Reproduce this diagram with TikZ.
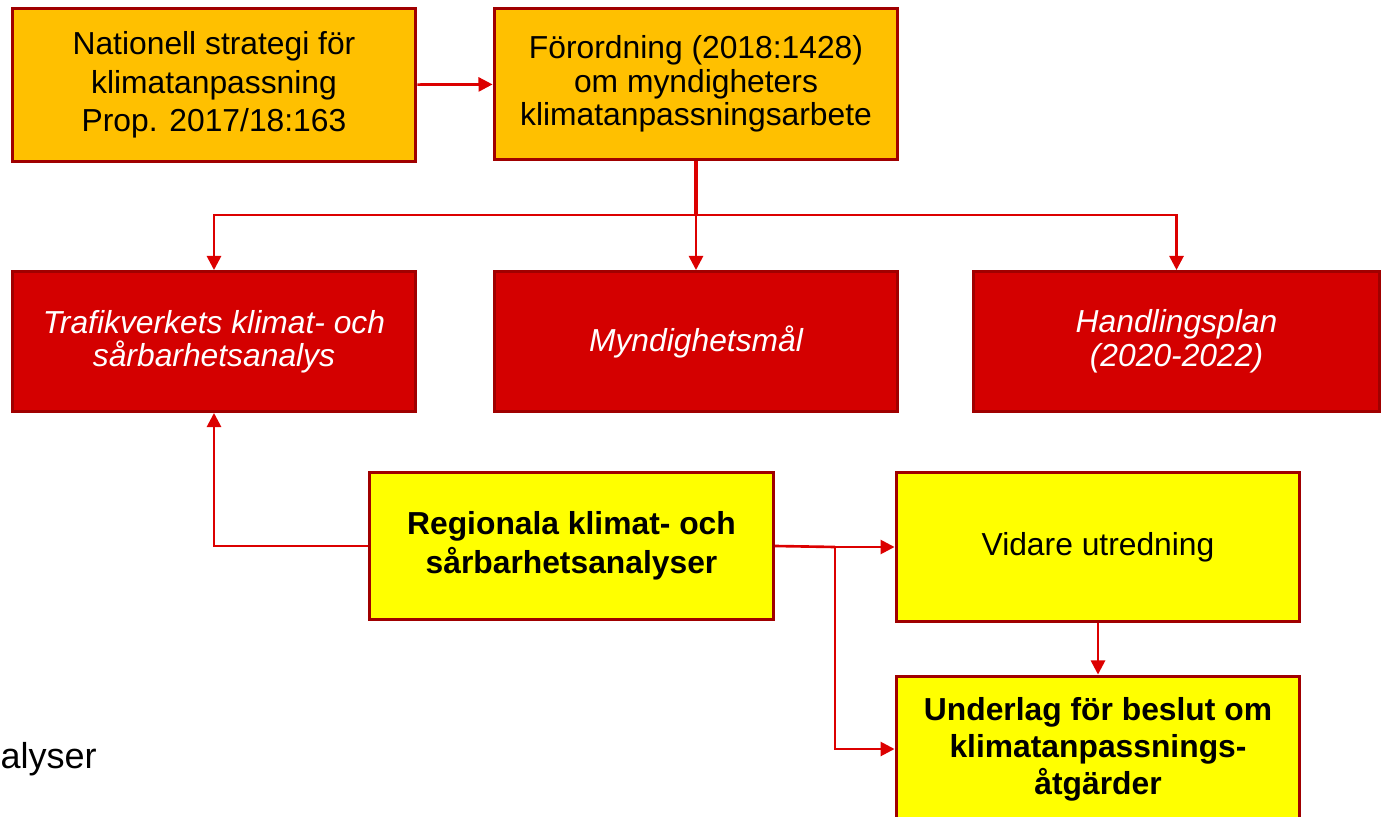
\documentclass[tikz,border=0pt]{standalone}
\usepackage{fontspec}
\setmainfont{Liberation Sans}
\usetikzlibrary{arrows.meta}
\definecolor{boxorange}{RGB}{255,192,0}
\definecolor{boxred}{RGB}{212,0,0}
\definecolor{boxyellow}{RGB}{255,255,0}
\definecolor{rimred}{RGB}{160,0,0}
\definecolor{linered}{RGB}{220,0,0}
\begin{document}
\begin{tikzpicture}[x=0.02cm, y=-0.02cm,
    box/.style={draw=rimred, line width=1.7pt, rectangle, minimum width=8.08cm, minimum height=2.8cm,
                text centered, align=center, font=\fontsize{18.1}{19}\selectfont},
    arr/.style={draw=linered, line width=1.5pt, -{Triangle[length=8pt, width=8pt]}}]
    \useasboundingbox (0,0) rectangle (1389,817);
    \node[box, fill=boxorange, minimum height=3.08cm, font=\fontsize{18.1}{22}\selectfont] (nat)  at (214, 85)  {Nationell strategi för\\klimatanpassning\\Prop. 2017/18:163};
    \node[box, fill=boxorange, minimum height=3.04cm] (for)  at (696, 84)  {Förordning (2018:1428)\\om myndigheters\\klimatanpassningsarbete};
    \node[box, fill=boxred, text=white, font=\fontsize{18.1}{19}\selectfont\itshape] (traf) at (214, 341.5) {Trafikverkets klimat- och\\sårbarhetsanalys};
    \node[box, fill=boxred, text=white, font=\fontsize{18.1}{19}\selectfont\itshape] (myn)  at (696, 341.5) {Myndighetsmål};
    \node[box, fill=boxred, text=white, minimum width=8.14cm, font=\fontsize{18.1}{19.5}\selectfont\itshape] (hand) at (1176.5, 341.5) {Handlingsplan\\(2020-2022)};
    \node[box, fill=boxyellow, minimum height=2.96cm, font=\fontsize{18.1}{22}\selectfont\bfseries] (reg)  at (571.5, 546) {Regionala klimat- och\\sårbarhetsanalyser};
    \node[box, fill=boxyellow, minimum height=3cm] (vid)  at (1098, 547) {Vidare utredning};
    \node[box, fill=boxyellow, minimum height=2.92cm, font=\fontsize{18.1}{21}\selectfont\bfseries] (und)  at (1098, 749) {Underlag för beslut om\\klimatanpassnings-\\åtgärder};
    \node[anchor=base east, inner sep=0pt, font=\fontsize{20.5}{24}\selectfont] (rest) at (97, 768) {alyser};
    \coordinate (split) at (696, 215);
    \coordinate (fork)  at (835, 547);
    % connectors
    \draw[arr] (nat) -- (for);
    \draw[draw=linered, line width=2.2pt] (for.south) -- (split);
    \foreach \n in {traf, myn, hand}
        \draw[arr] (split) -| (\n.north);
    \draw[arr] (reg.west) -| (traf.south);
    \draw[draw=linered, line width=1.5pt] (reg.east) -- (fork);
    \draw[arr] (fork) -- (vid.west);
    \draw[arr] (fork) |- (und.west);
    \draw[arr] (vid.south) -- (und.north);
\end{tikzpicture}
\end{document}
